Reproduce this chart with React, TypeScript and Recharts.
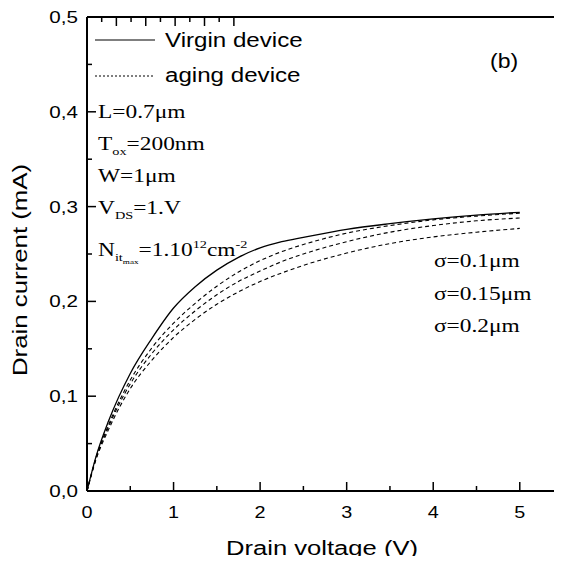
import React from "react";
import { LineChart, Line, XAxis, YAxis } from "recharts";

// drain voltage (V) and drain current (mA)
const voltage = [0, 0.1, 0.25, 0.5, 0.75, 1, 1.25, 1.5, 1.75, 2, 2.25, 2.5, 3, 3.5, 4, 4.5, 5];
const virgin = [0, 0.035, 0.074, 0.124, 0.161, 0.193, 0.2155, 0.233, 0.2465, 0.2565, 0.263, 0.2675, 0.276, 0.282, 0.287, 0.291, 0.294];
const aging01 = [0, 0.034, 0.07, 0.117, 0.151, 0.177, 0.198, 0.216, 0.231, 0.243, 0.2525, 0.26, 0.272, 0.28, 0.286, 0.29, 0.293];
const aging015 = [0, 0.033, 0.068, 0.113, 0.145, 0.17, 0.19, 0.207, 0.221, 0.232, 0.242, 0.25, 0.263, 0.273, 0.28, 0.285, 0.288];
const aging02 = [0, 0.032, 0.065, 0.108, 0.138, 0.162, 0.181, 0.197, 0.21, 0.221, 0.23, 0.238, 0.251, 0.261, 0.268, 0.273, 0.277];

const xMajor = [0, 1, 2, 3, 4, 5];
const xMinor = [0.5, 1.5, 2.5, 3.5, 4.5];
const yMajor = [0, 0.1, 0.2, 0.3, 0.4, 0.5];
const yMinor = [0.05, 0.15, 0.25, 0.35, 0.45];

const legendItems = [
  { label: "Virgin device", dash: undefined },
  { label: "aging device", dash: "2 2" },
];
const sigmaLabels = ["\u03c3=0.1\u03bcm", "\u03c3=0.15\u03bcm", "\u03c3=0.2\u03bcm"];

const data = voltage.map((v, i) => ({
  v,
  virgin: virgin[i],
  a1: aging01[i],
  a2: aging015[i],
  a3: aging02[i],
}));

const xTicks = [...xMajor, ...xMinor].sort((a, b) => a - b);
const yTicks = [...yMajor, ...yMinor].sort((a, b) => a - b);
const X_DOMAIN: [number, number] = [0, 5.43];
const Y_DOMAIN: [number, number] = [0, 0.5];

const SANS = "'Liberation Sans', Arial, sans-serif";
const SERIF = "'Liberation Serif', 'Times New Roman', serif";
const fmt = (n: number) => n.toFixed(1).replace(".", ",");
const isMajorX = (v: number) => xMajor.includes(v);
const isMajorY = (v: number) => yMajor.some((m) => Math.abs(m - v) < 1e-9);
const tickLen = (major: boolean) => (major ? 9 : 5);

// inward tick marks, with labels only on the bottom / left axes
const BottomTick = (p: any) => {
  const v = p.payload.value;
  const major = isMajorX(v);
  return (
    <g>
      <line x1={p.x} x2={p.x} y1={p.y} y2={p.y - tickLen(major)} stroke="#000" strokeWidth={1.5} />
      {major && (
        <text
          transform={`translate(${p.x},${p.y + 27}) scale(1.2,1)`}
          textAnchor="middle"
          fontFamily={SANS}
          fontSize={16.5}
          fill="#000"
        >
          {v}
        </text>
      )}
    </g>
  );
};

const TopTick = (p: any) => (
  <line x1={p.x} x2={p.x} y1={p.y} y2={p.y + tickLen(isMajorX(p.payload.value))} stroke="#000" strokeWidth={1.5} />
);

const LeftTick = (p: any) => {
  const v = p.payload.value;
  const major = isMajorY(v);
  return (
    <g>
      <line x1={p.x} x2={p.x + tickLen(major)} y1={p.y} y2={p.y} stroke="#000" strokeWidth={1.5} />
      {major && (
        <text
          transform={`translate(${p.x - 9},${p.y + 6}) scale(1.25,1)`}
          textAnchor="end"
          fontFamily={SANS}
          fontSize={16.5}
          fill="#000"
        >
          {fmt(v)}
        </text>
      )}
    </g>
  );
};

const RightTick = (p: any) => (
  <line x1={p.x} x2={p.x - tickLen(isMajorY(p.payload.value))} y1={p.y} y2={p.y} stroke="#000" strokeWidth={1.5} />
);

const Serif = ({ x, y, children }: any) => (
  <text
    transform={`translate(${x},${y}) scale(1.3,1)`}
    fontFamily={SERIF}
    fontSize={18}
    fill="#000"
  >
    {children}
  </text>
);

const frame = { stroke: "#000", strokeWidth: 2 };

export default function App() {
  return (
    <div style={{ margin: -8, width: 562, height: 564, background: "#fff" }}>
      <LineChart width={562} height={564} data={data} margin={{ top: 16, right: 4, left: 0, bottom: 0 }}>
        <XAxis
          xAxisId="x"
          dataKey="v"
          type="number"
          domain={X_DOMAIN}
          ticks={xTicks}
          interval={0}
          height={73}
          tickSize={0}
          tickMargin={0}
          tickLine={false}
          axisLine={frame}
          tick={<BottomTick />}
          allowDataOverflow
        />
        <XAxis
          xAxisId="top"
          type="number"
          orientation="top"
          domain={X_DOMAIN}
          ticks={xTicks}
          interval={0}
          height={1}
          tickSize={0}
          tickMargin={0}
          tickLine={false}
          axisLine={frame}
          tick={<TopTick />}
          allowDataOverflow
        />
        <YAxis
          yAxisId="y"
          type="number"
          domain={Y_DOMAIN}
          ticks={yTicks}
          interval={0}
          width={87}
          tickSize={0}
          tickMargin={0}
          tickLine={false}
          axisLine={frame}
          tick={<LeftTick />}
        />
        <YAxis
          yAxisId="right"
          type="number"
          orientation="right"
          domain={Y_DOMAIN}
          ticks={yTicks}
          interval={0}
          width={1}
          tickSize={0}
          tickMargin={0}
          tickLine={false}
          axisLine={frame}
          tick={<RightTick />}
        />

        <Line xAxisId="x" yAxisId="y" dataKey="virgin" type="monotone" stroke="#000" strokeWidth={1.3} dot={false} isAnimationActive={false} />
        <Line xAxisId="x" yAxisId="y" dataKey="a1" type="monotone" stroke="#000" strokeWidth={1.1} strokeDasharray="4 3" dot={false} isAnimationActive={false} />
        <Line xAxisId="x" yAxisId="y" dataKey="a2" type="monotone" stroke="#000" strokeWidth={1.1} strokeDasharray="4 3" dot={false} isAnimationActive={false} />
        <Line xAxisId="x" yAxisId="y" dataKey="a3" type="monotone" stroke="#000" strokeWidth={1.1} strokeDasharray="4 3" dot={false} isAnimationActive={false} />

        {/* legend */}
        {legendItems.map((it, i) => (
          <g key={it.label}>
            <line x1={95} x2={155} y1={40 + i * 36} y2={40 + i * 36} stroke="#000" strokeWidth={1.2} strokeDasharray={it.dash} />
            <text transform={`translate(165,${47 + i * 35}) scale(1.15,1)`} fontFamily={SANS} fontSize={21} fill="#000">
              {it.label}
            </text>
          </g>
        ))}

        <text transform="translate(27,270) rotate(-90) scale(1.23,1)" textAnchor="middle" fontFamily={SANS} fontSize={21} fill="#000">
          Drain current (mA)
        </text>
        <text transform="translate(322,555) scale(1.22,1)" textAnchor="middle" fontFamily={SANS} fontSize={21} fill="#000">
          Drain voltage (V)
        </text>
        <text transform="translate(490,68) scale(1.15,1)" fontFamily={SANS} fontSize={20} fill="#000">
          (b)
        </text>

        <Serif x={98} y={118}>{"L=0.7\u03bcm"}</Serif>
        <Serif x={98} y={150}>
          T<tspan fontSize={11} dy={5}>ox</tspan>
          <tspan dy={-5}>=200nm</tspan>
        </Serif>
        <Serif x={98} y={182}>{"W=1\u03bcm"}</Serif>
        <Serif x={98} y={214}>
          V<tspan fontSize={11} dy={5}>DS</tspan>
          <tspan dy={-5}>=1.V</tspan>
        </Serif>
        <Serif x={98} y={256}>
          N<tspan fontSize={11} dy={5}>it</tspan>
          <tspan fontSize={7} dy={3}>max</tspan>
          <tspan dy={-8}>=1.10</tspan>
          <tspan fontSize={11} dy={-8}>12</tspan>
          <tspan dy={8}>cm</tspan>
          <tspan fontSize={11} dy={-8}>-2</tspan>
        </Serif>

        {sigmaLabels.map((s, i) => (
          <Serif key={s} x={434} y={267 + i * 32.5}>
            {s}
          </Serif>
        ))}
      </LineChart>
    </div>
  );
}
